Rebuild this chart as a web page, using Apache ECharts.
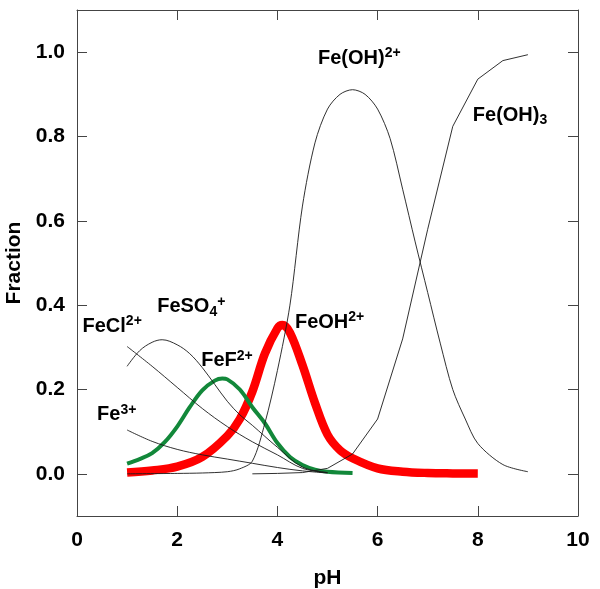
<!DOCTYPE html>
<html>
<head>
<meta charset="utf-8">
<script src="https://cdn.jsdelivr.net/npm/echarts@6/dist/echarts.min.js"></script>
<style>
html,body{margin:0;padding:0;background:#fff;}
#chart{width:600px;height:589px;}
</style>
</head>
<body>
<div id="chart"></div>
<script>
// ---- data ----
var xTicks = [0, 2, 4, 6, 8, 10];
var yTicks = [0, 0.2, 0.4, 0.6, 0.8, 1.0];

var pH_Fe3 = [1.0, 1.5, 2.0, 2.5, 3.0, 3.5, 4.0, 4.5, 5.0];
var fr_Fe3 = [0.104, 0.077, 0.058, 0.045, 0.035, 0.025, 0.015, 0.007, 0.002];

var pH_FeCl = [1.0, 1.5, 2.0, 2.5, 3.0, 3.5, 4.0, 4.5, 5.0];
var fr_FeCl = [0.302, 0.255, 0.205, 0.155, 0.112, 0.076, 0.045, 0.013, 0.003];

var pH_FeSO4 = [1.0, 1.25, 1.5, 1.7, 2.0, 2.25, 2.5, 2.75, 3.0, 3.25, 3.5, 4.0, 4.5, 5.0];
var fr_FeSO4 = [0.255, 0.292, 0.312, 0.318, 0.306, 0.285, 0.252, 0.212, 0.172, 0.14, 0.115, 0.063, 0.016, 0.003];

var pH_FeF = [1.0, 1.25, 1.5, 1.75, 2.0, 2.25, 2.5, 2.75, 2.9, 3.0, 3.25, 3.5, 3.75, 4.0, 4.25, 4.5, 4.75, 5.0, 5.5];
var fr_FeF = [0.024, 0.035, 0.049, 0.075, 0.112, 0.158, 0.198, 0.221, 0.226, 0.224, 0.2, 0.158, 0.12, 0.073, 0.04, 0.021, 0.01, 0.005, 0.002];

var pH_FeOH = [1.0, 1.5, 2.0, 2.5, 3.0, 3.25, 3.5, 3.75, 4.0, 4.1, 4.25, 4.5, 4.75, 5.0, 5.25, 5.5, 6.0, 6.5, 7.0, 7.5, 8.0];
var fr_FeOH = [0.003, 0.008, 0.017, 0.04, 0.09, 0.13, 0.195, 0.285, 0.345, 0.353, 0.335, 0.258, 0.168, 0.093, 0.056, 0.037, 0.013, 0.005, 0.002, 0.001, 0.0005];

var pH_FeOH2 = [1.0, 2.0, 2.5, 3.0, 3.25, 3.5, 3.75, 4.0, 4.25, 4.5, 4.75, 5.0, 5.25, 5.5, 5.75, 6.0, 6.25, 6.5, 6.75, 7.0, 7.25, 7.5, 7.75, 8.0, 8.5, 9.0];
var fr_FeOH2 = [0.0, 0.001, 0.002, 0.005, 0.012, 0.03, 0.12, 0.245, 0.4, 0.635, 0.785, 0.865, 0.9, 0.911, 0.9, 0.865, 0.795, 0.675, 0.55, 0.43, 0.31, 0.2, 0.13, 0.072, 0.022, 0.005];

var pH_FeOH3 = [3.5, 4.0, 4.5, 5.0, 5.5, 6.0, 6.5, 7.0, 7.5, 8.0, 8.5, 9.0];
var fr_FeOH3 = [0.0, 0.001, 0.003, 0.013, 0.047, 0.13, 0.32, 0.58, 0.824, 0.936, 0.98, 0.994];

// label anchors (pH, fraction) and rich text
var labelNames = ['Fe(OH)2+', 'Fe(OH)3', 'FeCl2+', 'FeSO4+', 'FeF2+', 'Fe3+', 'FeOH2+'];
var labelX = [4.81, 7.9, 0.11, 1.6, 2.48, 0.4, 4.35];
var labelY = [0.985, 0.85, 0.35, 0.396, 0.268, 0.14, 0.36];
var labelText = [
  '{n|Fe(OH)}{sup|2+}',
  '{n|Fe(OH)}{sub|3}',
  '{n|FeCl}{sup|2+}',
  '{n|FeSO}{sub|4}{sup|+}',
  '{n|FeF}{sup|2+}',
  '{n|Fe}{sup|3+}',
  '{n|FeOH}{sup|2+}'
];

function pairs(xs, ys) { return xs.map(function (x, i) { return [x, ys[i]]; }); }

var FONT = '"Liberation Sans", Arial, Helvetica, sans-serif';
var AXC = '#444';
var TXT = '#000';

function thin(name, xs, ys, smooth) {
  return {
    name: name, type: 'line', data: pairs(xs, ys), smooth: smooth, showSymbol: false,
    lineStyle: { color: '#1a1a1a', width: 0.9 }, z: 5, silent: true
  };
}

var option = {
  backgroundColor: '#fff',
  animation: false,
  grid: { left: 77, right: 22, top: 10, bottom: 73, containLabel: false, outerBoundsMode: 'none' },
  xAxis: [{
    type: 'value', min: 0, max: 10, interval: 2,
    name: 'pH', nameLocation: 'middle', nameGap: 52,
    nameTextStyle: { fontFamily: FONT, fontWeight: 'bold', fontSize: 21, color: TXT },
    axisLine: { show: true, onZero: false, lineStyle: { color: AXC, width: 1 } },
    axisTick: { show: true, inside: true, length: 10, lineStyle: { color: AXC } },
    axisLabel: { margin: 14, fontFamily: FONT, fontWeight: 'bold', fontSize: 21, color: TXT },
    splitLine: { show: false }
  }, {
    type: 'value', min: 0, max: 10, interval: 2, position: 'top',
    axisLine: { show: true, onZero: false, lineStyle: { color: AXC, width: 1 } },
    axisTick: { show: true, inside: true, length: 10, lineStyle: { color: AXC } },
    axisLabel: { show: false }, splitLine: { show: false }
  }],
  yAxis: [{
    type: 'value', min: -0.1, max: 1.1,
    name: 'Fraction', nameLocation: 'middle', nameGap: 52,
    nameTextStyle: { fontFamily: FONT, fontWeight: 'bold', fontSize: 21, color: TXT },
    axisLine: { show: true, onZero: false, lineStyle: { color: AXC, width: 1 } },
    axisTick: { show: true, inside: true, length: 10, lineStyle: { color: AXC }, customValues: yTicks },
    axisLabel: { margin: 12, fontFamily: FONT, fontWeight: 'bold', fontSize: 21, color: TXT,
      customValues: yTicks, formatter: function (v) { return v.toFixed(1); } },
    splitLine: { show: false }
  }, {
    type: 'value', min: -0.1, max: 1.1, position: 'right',
    axisLine: { show: true, onZero: false, lineStyle: { color: AXC, width: 1 } },
    axisTick: { show: true, inside: true, length: 10, lineStyle: { color: AXC }, customValues: yTicks },
    axisLabel: { show: false, customValues: yTicks }, splitLine: { show: false }
  }],
  series: [
    {
      name: 'FeOH2+', type: 'line', data: pairs(pH_FeOH, fr_FeOH), smooth: 0.35, showSymbol: false,
      lineStyle: { color: '#ff0000', width: 8.5, cap: 'butt' }, z: 2, silent: true
    },
    {
      name: 'FeF2+', type: 'line', data: pairs(pH_FeF, fr_FeF), smooth: 0.35, showSymbol: false,
      lineStyle: { color: '#12883a', width: 4 }, z: 3, silent: true
    },
    thin('Fe3+', pH_Fe3, fr_Fe3, 0.35),
    thin('FeCl2+', pH_FeCl, fr_FeCl, 0.35),
    thin('FeSO4+', pH_FeSO4, fr_FeSO4, 0.35),
    thin('Fe(OH)2+', pH_FeOH2, fr_FeOH2, 0.3),
    thin('Fe(OH)3', pH_FeOH3, fr_FeOH3, false),
    {
      name: 'labels', type: 'scatter', symbolSize: 0, z: 10, silent: true,
      itemStyle: { opacity: 1 },
      data: labelNames.map(function (n, i) { return { name: n, value: [labelX[i], labelY[i]] }; }),
      label: {
        show: true, position: 'right', distance: 0, opacity: 1,
        formatter: function (p) { return labelText[p.dataIndex]; },
        rich: {
          n: { fontFamily: FONT, fontWeight: 'bold', fontSize: 20, color: TXT, lineHeight: 24 },
          sup: { fontFamily: FONT, fontWeight: 'bold', fontSize: 14, color: TXT, lineHeight: 10, verticalAlign: 'top' },
          sub: { fontFamily: FONT, fontWeight: 'bold', fontSize: 14, color: TXT, lineHeight: 10, verticalAlign: 'bottom' }
        }
      }
    }
  ]
};

var chart = echarts.init(document.getElementById('chart'), null, { renderer: 'canvas' });
chart.setOption(option);
</script>
</body>
</html>
